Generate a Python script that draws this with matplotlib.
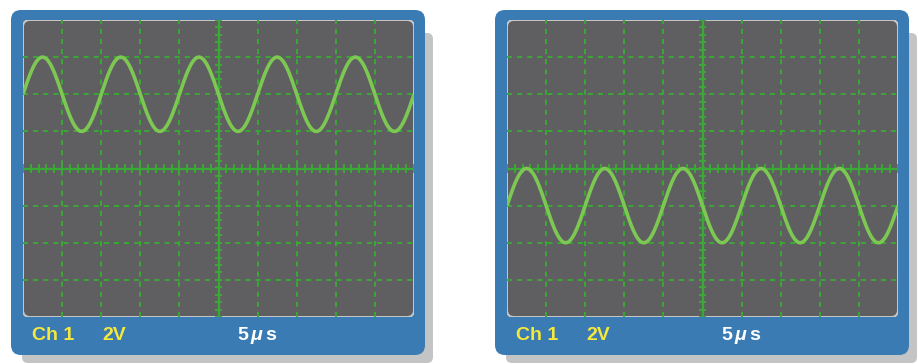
import matplotlib.pyplot as plt
import numpy as np
from matplotlib.patches import FancyBboxPatch

plt.rcParams['mathtext.fontset'] = 'custom'
plt.rcParams['mathtext.it'] = 'Liberation Sans:italic:bold'
plt.rcParams['mathtext.rm'] = 'Liberation Sans:bold'

# trace settings (in divisions)
offsets = [2.0, -1.0]      # vertical position of each trace
amplitude = 1.0            # peak height
cycles = 5                 # full periods across the 10 divisions
channel_labels = ['Ch 1', 'Ch 1']
volt_labels = ['2V', '2V']
time_labels = [r'5$\,\mu\,$s', r'5$\,\mu\,$s']

# panel geometry in pixels (left edge of frame, screen)
frame_x = [11, 495]
screen_x = [23, 507]

blue = '#3a7bb3'
gray_screen = '#5f5f61'
grid_green = '#3aa935'
trace_green = '#7dc853'
shadow = '#c3c4c6'

W, H = 918, 364
fig = plt.figure(figsize=(W / 100, H / 100), dpi=100)
bg = fig.add_axes([0, 0, 1, 1])
bg.set_xlim(0, W)
bg.set_ylim(H, 0)
bg.axis('off')

for i in range(2):
    fx = frame_x[i]
    sx = screen_x[i]
    # drop shadow
    bg.add_patch(FancyBboxPatch((fx + 14, 36), 405, 324, boxstyle='round,pad=3,rounding_size=6',
                                fc=shadow, ec='none'))
    # blue frame
    bg.add_patch(FancyBboxPatch((fx + 4, 14), 406, 337, boxstyle='round,pad=4,rounding_size=10',
                                fc=blue, ec='none'))
    # screen
    scr = FancyBboxPatch((sx + 3, 23), 385, 291, boxstyle='round,pad=3,rounding_size=7',
                         fc=gray_screen, ec='none')
    bg.add_patch(scr)

    ax = fig.add_axes([sx / W, 1 - 317 / H, 391 / W, 297 / H])
    ax.set_xlim(-5, 5)
    ax.set_ylim(-4, 4)
    ax.axis('off')
    ax.patch.set_alpha(0)

    arts = []
    for gx in range(-4, 5):
        if gx != 0:
            arts.append(ax.axvline(gx, color=grid_green, lw=1.4, ls=(0, (2.6, 2.6))))
    for gy in range(-3, 4):
        if gy != 0:
            arts.append(ax.axhline(gy, color=grid_green, lw=1.4, ls=(0, (2.6, 2.6))))
    # centre axes with minor ticks
    arts.append(ax.axvline(0, color=grid_green, lw=1.6))
    arts.append(ax.axhline(0, color=grid_green, lw=1.6))
    tx = np.arange(-5, 5.01, 0.2)
    ty = np.arange(-4, 4.01, 0.2)
    arts.append(ax.vlines(tx, -0.11, 0.11, color=grid_green, lw=1.4))
    arts.append(ax.hlines(ty, -0.1, 0.1, color=grid_green, lw=1.4))

    t = np.linspace(-5, 5, 800)
    y = offsets[i] + amplitude * np.sin(2 * np.pi * cycles * (t + 5) / 10)
    arts.append(ax.plot(t, y, color=trace_green, lw=2.6, solid_capstyle='butt')[0])
    for a in arts:
        a.set_clip_path(scr)

    rim = FancyBboxPatch((sx + 3, 23), 385, 291, boxstyle='round,pad=3,rounding_size=7',
                         fc='none', ec='#c8c8c8', lw=1.4, transform=bg.transData)
    ax.add_artist(rim)

    txt = dict(fontfamily='Liberation Sans', fontweight='bold', fontsize=14, va='center')
    bg.text(sx + 9, 335, channel_labels[i], color='#f5e83c', **txt)
    bg.text(sx + 79, 335, volt_labels[i], color='#f5e83c', **txt)
    bg.text(sx + 214, 335, time_labels[i], color='white', **txt)

fig.savefig('out.png', dpi=100)
